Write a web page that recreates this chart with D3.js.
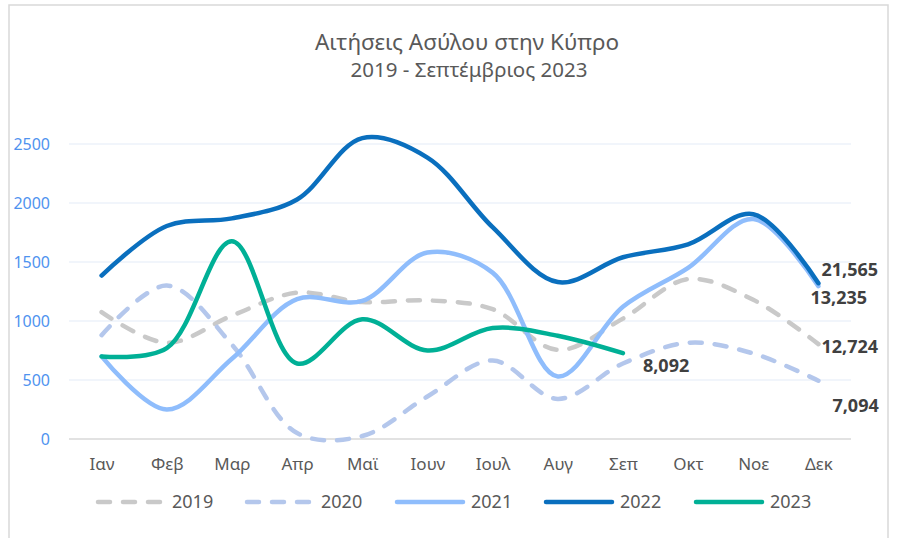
<!DOCTYPE html>
<html>
<head>
<meta charset="utf-8">
<script src="https://d3js.org/d3.v7.min.js"></script>
<style>
  body { margin: 0; background: #fff; }
  text { font-family: "Noto Sans", "Open Sans", sans-serif; }
</style>
</head>
<body>
<div id="chart"></div>
<script>
// months and yearly series
var months = ["Ιαν", "Φεβ", "Μαρ", "Απρ", "Μαϊ", "Ιουν", "Ιουλ", "Αυγ", "Σεπ", "Οκτ", "Νοε", "Δεκ"];
var years = ["2019", "2020", "2021", "2022", "2023"];
var v2019 = [1075, 815, 1045, 1240, 1160, 1175, 1100, 755, 1020, 1355, 1180, 804];
var v2020 = [880, 1300, 800, 50, 25, 360, 665, 340, 640, 815, 725, 494];
var v2021 = [700, 250, 680, 1185, 1170, 1580, 1410, 530, 1120, 1450, 1865, 1295];
var v2022 = [1385, 1805, 1870, 2030, 2550, 2385, 1795, 1330, 1540, 1650, 1905, 1320];
var v2023 = [700, 770, 1675, 640, 1015, 750, 940, 875, 727];
var yTicks = [0, 500, 1000, 1500, 2000, 2500];

var series = [
  {name: years[0], values: v2019, color: "#c9c9c9", dash: "12,13", lab: [3, 3]},
  {name: years[1], values: v2020, color: "#b4c7ec", dash: "12,13", lab: [14, 25]},
  {name: years[2], values: v2021, color: "#8fbdfc", dash: null, lab: [-8, 12]},
  {name: years[3], values: v2022, color: "#0a6fbe", dash: null, lab: [3, -14]},
  {name: years[4], values: v2023, color: "#00b096", dash: null, lab: [20, 12]}
];

var W = 897, H = 538;
var svg = d3.select("#chart").append("svg")
  .attr("width", W).attr("height", H);

// chart frame
svg.append("rect")
  .attr("x", 9).attr("y", 5)
  .attr("width", 879).attr("height", 560)
  .attr("fill", "#fff")
  .attr("stroke", "#d9d9d9").attr("stroke-width", 1.5);

// titles
svg.append("text")
  .attr("x", 467).attr("y", 50)
  .attr("text-anchor", "middle")
  .attr("font-size", "22.5px").attr("fill", "#595959")
  .text("Αιτήσεις Ασύλου στην Κύπρο");
svg.append("text")
  .attr("x", 469).attr("y", 77)
  .attr("text-anchor", "middle")
  .attr("font-size", "20.5px").attr("fill", "#595959")
  .text("2019 - Σεπτέμβριος 2023");

var x = d3.scalePoint().domain(months).range([69, 851]).padding(0.5);
var y = d3.scaleLinear().domain([0, 2500]).range([439, 144]);

// gridlines
svg.selectAll(".grid")
  .data(yTicks.slice(1)).enter()
  .append("line")
    .attr("x1", 69).attr("x2", 851)
    .attr("y1", function(d) { return y(d); })
    .attr("y2", function(d) { return y(d); })
    .attr("stroke", "#e3ecf8").attr("stroke-width", 1.2);

// y axis labels
var yAxis = svg.append("g")
  .attr("transform", "translate(50,0)")
  .call(d3.axisLeft(y).tickValues(yTicks).tickFormat(d3.format("d")).tickSize(0).tickPadding(0));
yAxis.select(".domain").remove();
yAxis.selectAll("text")
  .attr("font-size", "16px").attr("fill", "#4f93ef")
  .attr("font-family", "Noto Sans, sans-serif");

// x axis
var xAxis = svg.append("g")
  .attr("transform", "translate(0,439)")
  .call(d3.axisBottom(x).tickSize(0).tickPadding(19));
xAxis.select(".domain")
  .attr("d", "M69,0H851")
  .attr("stroke", "#d9d9d9").attr("stroke-width", 1.5);
xAxis.selectAll("text")
  .attr("font-size", "17px").attr("fill", "#595959")
  .attr("font-family", "Noto Sans, sans-serif");

var line = d3.line()
  .x(function(d, i) { return x(months[i]); })
  .y(function(d) { return y(d); })
  .curve(d3.curveCatmullRom.alpha(0.5));

series.forEach(function(s) {
  svg.append("path")
    .datum(s.values)
    .attr("d", line)
    .attr("fill", "none")
    .attr("stroke", s.color)
    .attr("stroke-width", 4.5)
    .attr("stroke-linecap", "round")
    .attr("stroke-linejoin", "round")
    .attr("stroke-dasharray", s.dash);
});

// total labels at the last point of each series
series.forEach(function(s) {
  var n = s.values.length - 1;
  svg.append("text")
    .attr("x", x(months[n]) + s.lab[0])
    .attr("y", y(s.values[n]) + s.lab[1])
    .attr("dy", "0.35em")
    .attr("font-size", "18px").attr("font-weight", "bold")
    .attr("fill", "#404040")
    .text(d3.format(",")(d3.sum(s.values)));
});

// legend
var legX = [96, 245, 395, 544, 694];
var leg = svg.selectAll(".leg")
  .data(series).enter()
  .append("g")
    .attr("transform", function(d, i) { return "translate(" + legX[i] + ",502)"; });
leg.append("line")
  .attr("x1", 2).attr("x2", 68)
  .attr("stroke", function(d) { return d.color; })
  .attr("stroke-width", 4.5)
  .attr("stroke-linecap", "round")
  .attr("stroke-dasharray", function(d) { return d.dash ? "12,13" : null; });
leg.append("text")
  .attr("x", 76).attr("dy", "0.35em")
  .attr("font-size", "18px").attr("fill", "#595959")
  .text(function(d) { return d.name; });
</script>
</body>
</html>
